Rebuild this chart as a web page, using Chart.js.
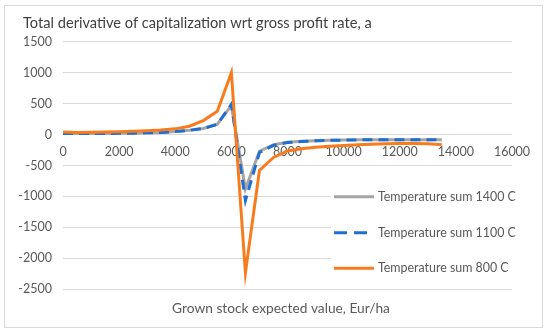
<!DOCTYPE html>
<html>
<head>
<meta charset="utf-8">
<script src="https://cdn.jsdelivr.net/npm/chart.js@4/dist/chart.umd.min.js"></script>
<style>
html,body{margin:0;padding:0;background:#fff;}
#c{display:block;}
</style>
</head>
<body>
<canvas id="c" width="550" height="334"></canvas>
<script>
const chartTitle = "Total derivative of capitalization wrt gross profit rate, a";
const xAxisTitle = "Grown stock expected value, Eur/ha";
const seriesLabels = ["Temperature sum 1400 C", "Temperature sum 1100 C", "Temperature sum 800 C"];
const xValues = [0,500,1000,1500,2000,2500,3000,3500,4000,4500,5000,5500,6000,6500,7000,7500,8000,8500,9000,9500,10000,10500,11000,11500,12000,12500,13000,13500];
const temp1400 = [15,16,17,18,20,23,28,35,48,68,98,168,470,-880,-270,-165,-125,-110,-100,-93,-88,-86,-84,-83,-82,-82,-82,-82];
const temp1100 = [15,16,17,18,20,23,28,35,48,68,98,165,490,-1065,-290,-175,-130,-112,-101,-94,-89,-86,-84,-83,-82,-82,-82,-82];
const temp800  = [42,33,36,40,46,52,60,72,92,135,226,376,1000,-2230,-580,-370,-265,-228,-205,-190,-177,-166,-157,-150,-145,-145,-150,-165];
const xTicks = [0,2000,4000,6000,8000,10000,12000,14000,16000];
const yTicks = [1500,1000,500,0,-500,-1000,-1500,-2000,-2500];

const FONT = "Lato, 'Open Sans', sans-serif";
const TEXT = "#595959";
const colors = ["#A5A5A5", "#1F6FD0", "#F87C1E"];
const dashes = [[], [10, 6], []];

function pts(vals){ return xValues.map((x,i)=>({x:x, y:vals[i]})); }
const seriesValues = [temp1400, temp1100, temp800];

function fitFont(ctx, text, targetW){
  ctx.font = "100px " + FONT;
  const w = ctx.measureText(text).width;
  return 100 * targetW / w;
}

const decor = {
  id: 'decor',
  beforeDraw(chart){
    const ctx = chart.ctx;
    ctx.save();
    ctx.strokeStyle = "#D9D9D9";
    ctx.lineWidth = 1;
    ctx.strokeRect(4.5, 5.5, 538, 322);
    const ts = fitFont(ctx, chartTitle, 349);
    ctx.font = ts + "px " + FONT;
    ctx.fillStyle = "#404040";
    ctx.textBaseline = "middle";
    ctx.textAlign = "left";
    ctx.fillText(chartTitle, 23, 23);
    const as = fitFont(ctx, xAxisTitle, 218);
    ctx.font = as + "px " + FONT;
    ctx.fillStyle = TEXT;
    ctx.textAlign = "center";
    ctx.fillText(xAxisTitle, 281, 309);
    ctx.restore();
  },
  afterDraw(chart){
    const ctx = chart.ctx;
    const area = chart.chartArea;
    ctx.save();
    ctx.fillStyle = "#fff";
    ctx.fillRect(331, 178, area.right - 331 + 1, 106);
    const ls = fitFont(ctx, seriesLabels[0], 138);
    const ys = [196.7, 232.7, 268.3];
    chart.data.datasets.forEach((ds, i) => {
      ctx.beginPath();
      ctx.strokeStyle = ds.borderColor;
      ctx.lineWidth = 3;
      ctx.setLineDash(i === 1 ? [13, 7] : []);
      ctx.moveTo(334, ys[i]);
      ctx.lineTo(374, ys[i]);
      ctx.stroke();
      ctx.setLineDash([]);
      ctx.font = ls + "px " + FONT;
      ctx.fillStyle = TEXT;
      ctx.textAlign = "left";
      ctx.textBaseline = "middle";
      ctx.fillText(ds.label, 378, ys[i]);
    });
    ctx.restore();
  }
};

new Chart(document.getElementById('c'), {
  type: 'line',
  data: {
    datasets: seriesLabels.map((lab, i) => ({
      label: lab,
      data: pts(seriesValues[i]),
      borderColor: colors[i],
      backgroundColor: colors[i],
      borderWidth: 3,
      borderDash: dashes[i],
      pointRadius: 0,
      tension: 0,
      fill: false,
      order: 3 - i
    }))
  },
  options: {
    responsive: false,
    animation: false,
    devicePixelRatio: 1,
    layout: { padding: { left: 0, right: 38, top: 41.7, bottom: 44.7 } },
    plugins: { legend: { display: false }, title: { display: false }, tooltip: { enabled: false } },
    scales: {
      x: {
        type: 'linear',
        position: { y: 0 },
        min: 0, max: 16000,
        afterBuildTicks(scale){ scale.ticks = xTicks.map(v => ({value: v})); },
        grid: { display: false, drawTicks: false },
        border: { display: false },
        ticks: { color: TEXT, font: { family: FONT, size: 12.5 }, padding: 10, maxRotation: 0, autoSkip: false, callback: v => String(v) }
      },
      y: {
        type: 'linear',
        min: -2500, max: 1500,
        afterBuildTicks(scale){ scale.ticks = yTicks.slice().reverse().map(v => ({value: v})); },
        afterFit(scale){ scale.width = 63; },
        grid: { color: "#D9D9D9", lineWidth: 1, drawTicks: false },
        border: { display: false },
        ticks: { color: TEXT, font: { family: FONT, size: 12.5 }, padding: 11, autoSkip: false, callback: v => String(v) }
      }
    }
  },
  plugins: [decor]
});
</script>
</body>
</html>
